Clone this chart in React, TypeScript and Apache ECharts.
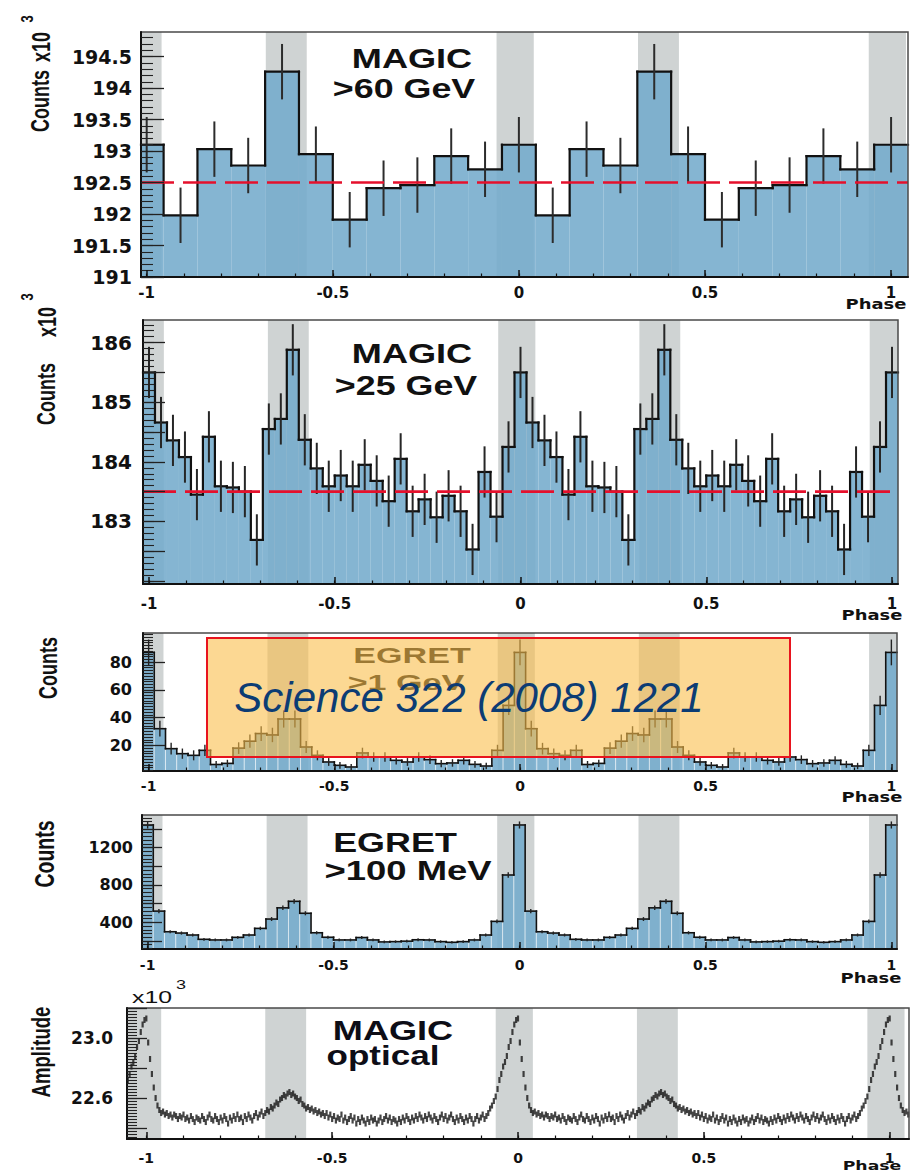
import React, { useEffect, useRef } from "react";
import * as echarts from "echarts";

const W = 917;
const H = 1175;

// ---- phase axis ticks ----
const phaseLabels = [-1, -0.5, 0, 0.5, 1];
const phaseMinor = [-1, -0.9, -0.8, -0.7, -0.6, -0.5, -0.4, -0.3, -0.2, -0.1, 0, 0.1, 0.2, 0.3, 0.4, 0.5, 0.6, 0.7, 0.8, 0.9, 1];

// ---- shaded phase regions (P1 / P2 and their repeats) ----
const bandStart = [-1.06, -0.68, -0.06, 0.32, 0.94];
const bandEnd = [-0.96, -0.57, 0.04, 0.43, 1.04];

// ---- MAGIC > 60 GeV, counts x10^3, 11 bins per period ----
const magic60 = [193.1, 191.98, 193.03, 192.77, 194.26, 192.95, 191.91, 192.41, 192.46, 192.92, 192.71];
const magic60Err = 0.44;
const magic60Mean = 192.5;
const magic60YLabels = [191, 191.5, 192, 192.5, 193, 193.5, 194, 194.5];

// ---- MAGIC > 25 GeV, counts x10^3, 31 bins per period ----
const magic25 = [
  185.5, 184.66, 184.36, 184.08, 183.45, 184.42, 183.59, 183.57, 183.5, 182.69, 184.55,
  184.72, 185.88, 184.37, 183.89, 183.59, 183.77, 183.59, 183.95, 183.68, 183.34, 184.05,
  183.17, 183.37, 183.07, 183.43, 183.17, 182.53, 183.83, 183.08, 184.25,
];
const magic25Err = 0.43;
const magic25Mean = 183.5;
const magic25YLabels = [183, 184, 185, 186];

// ---- EGRET > 1 GeV, counts, 33 bins per period ----
const egret1 = [
  87, 32, 17.6, 14, 12.8, 16.4, 6.2, 7, 18, 23, 28.5, 27.5, 39, 39, 18.8, 12.8, 8,
  5.6, 4.4, 14.5, 11.6, 11.6, 9.2, 8, 11.6, 9.7, 6.8, 7.3, 9.2, 6.3, 5.1, 16.4, 48.8,
];
const egret1Err = [
  9.3, 5.7, 4.2, 3.7, 3.6, 4.0, 2.5, 2.6, 4.2, 4.8, 5.3, 5.2, 6.2, 6.2, 4.3, 3.6, 2.8,
  2.4, 2.1, 3.8, 3.4, 3.4, 3.0, 2.8, 3.4, 3.1, 2.6, 2.7, 3.0, 2.5, 2.3, 4.0, 7.0,
];
const egret1YLabels = [20, 40, 60, 80];

// ---- EGRET > 100 MeV, counts, 33 bins per period ----
const egret100 = [
  1443, 520, 299, 285, 264, 218, 211, 211, 239, 264, 335, 435, 555, 625, 497, 288, 240,
  211, 211, 237, 211, 190, 193, 198, 213, 211, 193, 186, 193, 211, 264, 410, 907,
];
const egret100Err = [
  38, 23, 17, 17, 16, 15, 15, 15, 15, 16, 18, 21, 24, 25, 22, 17, 15,
  15, 15, 15, 15, 14, 14, 14, 15, 15, 14, 14, 14, 15, 16, 20, 30,
];
const egret100YLabels = [400, 800, 1200];

// ---- MAGIC optical, amplitude x10^3, one period sampled every 0.005 in phase ----
const opticalStep = 0.005;
const optical = [
  23.13, 22.97, 22.86, 22.76, 22.67, 22.6, 22.55, 22.52, 22.5, 22.51, 22.49,
  22.5, 22.48, 22.49, 22.47, 22.49, 22.48, 22.46, 22.48, 22.47, 22.49,
  22.46, 22.47, 22.45, 22.48, 22.46, 22.44, 22.47, 22.46, 22.45, 22.48,
  22.46, 22.44, 22.47, 22.49, 22.46, 22.45, 22.48, 22.46, 22.44, 22.47,
  22.45, 22.48, 22.46, 22.43, 22.47, 22.45, 22.48, 22.46, 22.49, 22.46,
  22.47, 22.44, 22.48, 22.46, 22.49, 22.47, 22.45, 22.48, 22.5,
  22.47, 22.49, 22.51, 22.48, 22.5, 22.52, 22.51, 22.54, 22.53, 22.55,
  22.57, 22.56, 22.59, 22.6, 22.62, 22.61, 22.63, 22.64, 22.62, 22.63,
  22.61, 22.6, 22.58, 22.59, 22.56, 22.55, 22.53, 22.54, 22.52, 22.53,
  22.51, 22.52, 22.5, 22.51, 22.49, 22.5, 22.48, 22.5, 22.47, 22.49,
  22.46, 22.48, 22.45, 22.47, 22.46, 22.49, 22.45, 22.47, 22.44, 22.46,
  22.48, 22.45, 22.47, 22.43, 22.46, 22.44, 22.47, 22.45, 22.43, 22.46,
  22.44, 22.47, 22.45, 22.46, 22.43, 22.45, 22.47, 22.44, 22.46, 22.48,
  22.45, 22.47, 22.44, 22.46, 22.45, 22.43, 22.46, 22.44, 22.47, 22.45,
  22.48, 22.46, 22.44, 22.47, 22.45, 22.48, 22.46, 22.49, 22.47, 22.45,
  22.48, 22.46, 22.49, 22.47, 22.45, 22.48, 22.46, 22.44, 22.47, 22.49,
  22.46, 22.48, 22.45, 22.47, 22.49, 22.46, 22.44, 22.47, 22.45, 22.48,
  22.46, 22.44, 22.47, 22.45, 22.48, 22.46, 22.43, 22.46, 22.48, 22.45,
  22.47, 22.49, 22.46, 22.48,
  22.5, 22.53, 22.55, 22.58, 22.61, 22.66, 22.72, 22.76, 22.81, 22.84, 22.88, 22.94, 22.98, 23.04, 23.09, 23.12,
];
const opticalYLabels = [22.6, 23.0];

// ---- styling ----
const BLUE = "rgba(116,171,204,0.88)";
const BAND = "#cfd3d3";
const INK = "#111111";

function seq(a: number, b: number, d: number): number[] {
  const out: number[] = [];
  const n = Math.round((b - a) / d);
  for (let i = 0; i <= n; i++) out.push(+(a + i * d).toFixed(6));
  return out;
}

function histData(period: number[], err: number | number[]) {
  const n = period.length;
  const out: number[][] = [];
  for (let k = 0; k <= 2 * n; k++) {
    const v = period[k % n];
    const pv = k === 0 ? v : period[(k - 1) % n];
    const e = Array.isArray(err) ? err[k % n] : err;
    out.push([-1 + k / n, v, pv, e]);
  }
  return out;
}

const panels = [
  {
    left: 141, top: 32, width: 767, height: 245, xmin: -1.0153, xmax: 1 + 1 / 22, ymin: 191, ymax: 194.89,
    yLabels: magic60YLabels, yMajor: seq(191, 194.5, 0.5), yMinor: seq(191, 194.8, 0.1),
    yMajorLen: 23, yMinorLen: 12, yFont: 19, yMargin: 9, yFmt: (v: number) => String(v), xFont: 15, xMargin: 8,
  },
  {
    left: 143, top: 320, width: 755, height: 264, xmin: -1 - 1 / 62, xmax: 1 + 1 / 62, ymin: 181.95, ymax: 186.38,
    yLabels: magic25YLabels, yMajor: seq(182, 186, 0.5), yMinor: seq(182, 186.3, 0.1),
    yMajorLen: 22, yMinorLen: 11, yFont: 20, yMargin: 11, yFmt: (v: number) => String(v), xFont: 15, xMargin: 12,
  },
  {
    left: 143, top: 633, width: 754, height: 138, xmin: -1 - 1 / 66, xmax: 1 + 1 / 66, ymin: 1.5, ymax: 101,
    yLabels: egret1YLabels, yMajor: egret1YLabels, yMinor: seq(2, 100, 2),
    yMajorLen: 22, yMinorLen: 10, yFont: 16, yMargin: 11, yFmt: (v: number) => String(v), xFont: 14, xMargin: 8,
  },
  {
    left: 142, top: 815, width: 755, height: 134, xmin: -1 - 1 / 66, xmax: 1 + 1 / 66, ymin: 114, ymax: 1550,
    yLabels: egret100YLabels, yMajor: seq(200, 1400, 200), yMinor: seq(120, 1520, 40),
    yMajorLen: 20, yMinorLen: 10, yFont: 16, yMargin: 9, yFmt: (v: number) => String(v), xFont: 14, xMargin: 9,
  },
  {
    left: 127, top: 1008, width: 782, height: 131, xmin: -1.052, xmax: 1.052, ymin: 22.327, ymax: 23.2,
    yLabels: opticalYLabels, yMajor: seq(22.4, 23.2, 0.2), yMinor: seq(22.34, 23.2, 0.02),
    yMajorLen: 20, yMinorLen: 10, yFont: 17, yMargin: 14, yFmt: (v: number) => v.toFixed(1), xFont: 14, xMargin: 12,
  },
];

const hists = [
  { data: histData(magic60, magic60Err), half: 1 / 22, ow: 2.2, ec: "#2c2c2c", ew: 2, stripe: null as any, mean: magic60Mean },
  { data: histData(magic25, magic25Err), half: 1 / 62, ow: 2.2, ec: "#262626", ew: 2, stripe: null as any, mean: magic25Mean },
  { data: histData(egret1, egret1Err), half: 1 / 66, ow: 1.6, ec: "#222", ew: 1.4, stripe: "rgba(255,255,255,0.5)", mean: null as any },
  { data: histData(egret100, egret100Err), half: 1 / 66, ow: 1.6, ec: "#222", ew: 1.4, stripe: "rgba(255,255,255,0.5)", mean: null as any },
];

function buildOption() {
  const grid = panels.map((p) => ({
    left: p.left, top: p.top, width: p.width, height: p.height,
    show: true, borderColor: "#4a4a4a", borderWidth: 1.5, backgroundColor: "transparent",
    containLabel: false, outerBoundsMode: "none", z: 10,
  }));

  const xAxis = panels.flatMap((p, i) => [
    {
      gridIndex: i, type: "value", position: "bottom", min: p.xmin, max: p.xmax, z: 10,
      axisLine: { show: true, onZero: false, lineStyle: { color: INK, width: 2 } },
      axisTick: { show: true, inside: true, length: 7, customValues: phaseLabels, lineStyle: { color: INK, width: 1.5 } },
      axisLabel: {
        show: true, customValues: phaseLabels, margin: p.xMargin, fontSize: p.xFont, fontWeight: "bold",
        fontFamily: "DejaVu Sans", color: INK, formatter: (v: number) => String(v),
      },
      splitLine: { show: false },
    },
    {
      gridIndex: i, type: "value", position: "bottom", min: p.xmin, max: p.xmax, z: 10,
      axisLine: { show: false, onZero: false },
      axisTick: { show: true, inside: true, length: 3.5, customValues: phaseMinor, lineStyle: { color: INK, width: 1.2 } },
      axisLabel: { show: false },
      splitLine: { show: false },
    },
  ]);

  const yAxis = panels.flatMap((p, i) => [
    {
      gridIndex: i, type: "value", position: "left", min: p.ymin, max: p.ymax, z: 10,
      axisLine: { show: true, onZero: false, lineStyle: { color: INK, width: 2 } },
      axisTick: { show: true, inside: true, length: p.yMajorLen, customValues: p.yMajor, lineStyle: { color: "#222", width: 1.3 } },
      axisLabel: {
        show: true, customValues: p.yLabels, margin: p.yMargin, fontSize: p.yFont, fontWeight: "bold",
        fontFamily: "DejaVu Sans", color: INK, formatter: p.yFmt,
      },
      splitLine: { show: false },
    },
    {
      gridIndex: i, type: "value", position: "left", min: p.ymin, max: p.ymax, z: 10,
      axisLine: { show: false, onZero: false },
      axisTick: { show: true, inside: true, length: p.yMinorLen, customValues: p.yMinor, lineStyle: { color: "#222", width: 1.1 } },
      axisLabel: { show: false },
      splitLine: { show: false },
    },
  ]);

  const series: any[] = [];

  panels.forEach((p, i) => {
    series.push({
      type: "custom", name: "band" + i, xAxisIndex: 2 * i, yAxisIndex: 2 * i, z: 1, silent: true,
      data: bandStart.map((s, j) => [s, bandEnd[j]]),
      renderItem: (params: any, api: any) => {
        const s = Math.max(api.value(0), p.xmin);
        const e = Math.min(api.value(1), p.xmax);
        const cs = params.coordSys;
        const x0 = api.coord([s, p.ymin])[0];
        const x1 = api.coord([e, p.ymin])[0];
        return { type: "rect", shape: { x: x0, y: cs.y, width: Math.max(0, x1 - x0), height: cs.height }, style: { fill: BAND } };
      },
    });
  });

  hists.forEach((h, i) => {
    const p = panels[i];
    series.push({
      type: "custom", name: "hist" + i, xAxisIndex: 2 * i, yAxisIndex: 2 * i, z: 2, silent: true,
      data: h.data,
      renderItem: (params: any, api: any) => {
        const c = api.value(0), v = api.value(1), pv = api.value(2), e = api.value(3);
        const x0 = Math.max(c - h.half, p.xmin);
        const x1 = Math.min(c + h.half, p.xmax);
        const a = api.coord([x0, v]);
        const b = api.coord([x1, v]);
        const base = params.coordSys.y + params.coordSys.height;
        const children: any[] = [
          {
            type: "rect", z2: 0,
            shape: { x: a[0], y: a[1], width: b[0] - a[0], height: base - a[1] },
            style: h.stripe ? { fill: BLUE, stroke: h.stripe, lineWidth: 1 } : { fill: BLUE },
          },
          {
            type: "line", z2: 10,
            shape: { x1: a[0], y1: a[1], x2: b[0], y2: b[1] },
            style: { stroke: INK, lineWidth: h.ow, lineCap: "square" },
          },
        ];
        if (pv !== v) {
          const q = api.coord([x0, pv]);
          children.push({
            type: "line", z2: 10,
            shape: { x1: a[0], y1: q[1], x2: a[0], y2: a[1] },
            style: { stroke: INK, lineWidth: h.ow, lineCap: "square" },
          });
        }
        const t = api.coord([c, v + e]);
        const d = api.coord([c, v - e]);
        children.push({
          type: "line", z2: 20,
          shape: { x1: t[0], y1: t[1], x2: d[0], y2: d[1] },
          style: { stroke: h.ec, lineWidth: h.ew },
        });
        return { type: "group", children };
      },
    });
    if (h.mean != null) {
      series.push({
        type: "custom", name: "mean" + i, xAxisIndex: 2 * i, yAxisIndex: 2 * i, z: 4, silent: true,
        data: [[0, h.mean]],
        renderItem: (params: any, api: any) => {
          const cs = params.coordSys;
          const y = api.coord([0, api.value(1)])[1];
          return {
            type: "line",
            shape: { x1: cs.x, y1: y, x2: cs.x + cs.width, y2: y },
            style: { stroke: "#e5102c", lineWidth: 2.6, lineDash: [33, 9] },
          };
        },
      });
    }
  });

  const p5 = panels[4];
  const opticalData: number[][] = [];
  for (let n = -2; n <= 1; n++) {
    optical.forEach((v, i) => {
      const x = n + i * opticalStep;
      if (x >= p5.xmin && x <= p5.xmax) opticalData.push([x, v]);
    });
  }
  series.push({
    type: "scatter", name: "optical", xAxisIndex: 8, yAxisIndex: 8, z: 3, silent: true,
    symbol: "rect", symbolSize: [2.2, 6], itemStyle: { color: "#161616" },
    data: opticalData,
  });

  const txt = (
    text: string, x: number, y: number, size: number,
    opts: { sx?: number; sy?: number; rot?: number; weight?: string; family?: string; style?: string; fill?: string; z?: number } = {}
  ) => ({
    type: "text", x, y, z: opts.z ?? 50, silent: true,
    rotation: opts.rot ?? 0, scaleX: opts.sx ?? 1, scaleY: opts.sy ?? 1,
    style: {
      text, fontSize: size, fontWeight: opts.weight ?? "bold", fontFamily: opts.family ?? "Liberation Sans",
      fontStyle: opts.style ?? "normal", fill: opts.fill ?? INK, align: "center", verticalAlign: "middle",
    },
  });
  const R = Math.PI / 2;

  const elements: any[] = [
    // titles
    txt("MAGIC", 412, 58.5, 28, { sx: 1.29 }),
    txt(">60 GeV", 404, 88.6, 28, { sx: 1.28 }),
    txt("MAGIC", 412, 353.3, 28, { sx: 1.29 }),
    txt(">25 GeV", 406, 385.3, 28, { sx: 1.28 }),
    txt("EGRET", 412, 655.5, 22, { sx: 1.55 }),
    txt(">1 GeV", 406, 682.5, 22, { sx: 1.55 }),
    txt("EGRET", 395, 842.3, 27, { sx: 1.33 }),
    txt(">100 MeV", 408, 870.3, 27, { sx: 1.35 }),
    txt("MAGIC", 393, 1030.3, 28, { sx: 1.29, fill: "#0d0d16" }),
    txt("optical", 383, 1055, 28, { sx: 1.25, fill: "#0d0d16" }),
    // y-axis names
    txt("Counts", 40, 101, 18, { rot: R, sy: 1.45 }),
    txt("x10", 41, 47, 18, { rot: R, sy: 1.45 }),
    txt("3", 27, 19, 13, { rot: R, sy: 1.3 }),
    txt("Counts", 46, 394, 18, { rot: R, sy: 1.45 }),
    txt("x10", 47, 322, 18, { rot: R, sy: 1.45 }),
    txt("3", 27, 297, 13, { rot: R, sy: 1.3 }),
    txt("Counts", 48, 668, 18, { rot: R, sy: 1.45 }),
    txt("Counts", 45, 854, 19.5, { rot: R, sy: 1.4 }),
    txt("Amplitude", 41, 1052, 18.6, { rot: R, sy: 1.4 }),
    txt("x10", 152, 997, 16, { sx: 1.55, weight: "normal" }),
    txt("3", 181, 985, 12, { sx: 1.5, weight: "normal" }),
    // Phase labels
    txt("Phase", 876, 304, 13.5, { sx: 1.33, family: "DejaVu Sans" }),
    txt("Phase", 872, 615, 13.5, { sx: 1.33, family: "DejaVu Sans" }),
    txt("Phase", 872, 797, 13.5, { sx: 1.33, family: "DejaVu Sans" }),
    txt("Phase", 871, 978, 13.5, { sx: 1.33, family: "DejaVu Sans" }),
    txt("Phase", 872, 1166, 13, { sx: 1.33, family: "DejaVu Sans" }),
    // overlay annotation
    {
      type: "rect", z: 100, silent: true,
      shape: { x: 207, y: 638, width: 583, height: 119 },
      style: { fill: "rgba(250,190,75,0.6)", stroke: "#e8141e", lineWidth: 2 },
    },
    txt("Science 322 (2008) 1221", 469, 697.5, 42, { weight: "normal", style: "italic", fill: "#0c3c74", z: 101 }),
  ];

  return {
    animation: false,
    backgroundColor: "#ffffff",
    grid,
    xAxis,
    yAxis,
    series,
    graphic: { elements },
  };
}

export default function App() {
  const ref = useRef<HTMLDivElement>(null);
  useEffect(() => {
    document.body.style.margin = "0";
    const chart = echarts.init(ref.current as HTMLDivElement, null, { renderer: "svg", width: W, height: H });
    chart.setOption(buildOption() as any);
    return () => chart.dispose();
  }, []);
  return <div ref={ref} style={{ width: W, height: H }} />;
}
